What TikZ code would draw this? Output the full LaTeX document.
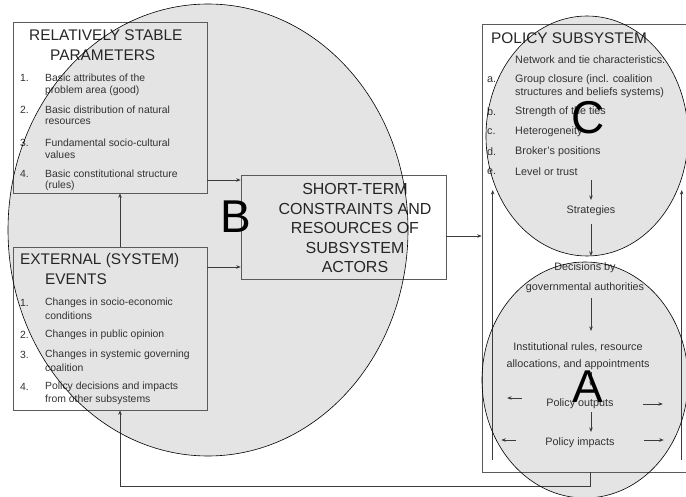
\documentclass[tikz,border=0pt]{standalone}
\usepackage{fontspec}
\setmainfont{Liberation Sans}
\usetikzlibrary{arrows.meta,shapes.geometric}
\newcommand\myfs[1]{\fontsize{#1}{#1}\selectfont}
\definecolor{ellfill}{RGB}{228,228,228}
\definecolor{txtc}{RGB}{50,50,50}
\definecolor{boxc}{RGB}{90,90,90}
\definecolor{arrc}{RGB}{60,60,60}
\tikzset{
  box/.style={draw=boxc,line width=0.6pt,rectangle,inner sep=0pt},
  ell/.style={draw=black,line width=0.6pt,ellipse,inner sep=0pt},
  arr/.style={draw=arrc,line width=0.6pt,-{Stealth[length=4.5pt,width=3.5pt]}},
  lt/.style={anchor=west,inner sep=0pt,text=txtc,font=\myfs{10.4}},
  pt/.style={anchor=west,inner sep=0pt,text=txtc,font=\myfs{10.8}},
  ct/.style={anchor=center,inner sep=0pt,text=txtc,font=\myfs{10.8}},
  hd/.style={anchor=west,inner sep=0pt,text=black!85,font=\myfs{15.4}},
  big/.style={anchor=center,inner sep=0pt,text=black,font=\myfs{46}},
}
\begin{document}
\begin{tikzpicture}[x=1pt,y=-1pt]
\useasboundingbox (0,0) rectangle (686,497);
% ellipse fills
\fill[ellfill] (208,230) ellipse [x radius=200pt, y radius=226pt];
\fill[ellfill] (587,136) ellipse [x radius=101pt, y radius=120pt];
\fill[ellfill] (585,380) ellipse [x radius=103pt, y radius=118pt];

% boxes
\node[box,minimum width=194pt,minimum height=171pt] (rsp) at (110,107.5) {};
\node[box,minimum width=194pt,minimum height=163pt] (ext) at (110,328.5) {};
\node[box,minimum width=205pt,minimum height=104pt] (st) at (343.5,227) {};
\node[box,minimum width=208pt,minimum height=448pt] (ps) at (586,248) {};

% RSP text
\node[hd] (rspA) at (29,35) {RELATIVELY STABLE};
\node[hd] (rspB) at (50,55) {PARAMETERS};
\node[lt] (r1n) at (20,78) {1.};
\node[lt] (r1a) at (45,78) {Basic attributes of the};
\node[lt] (r1b) at (45,91) {problem area (good)};
\node[lt] (r2n) at (20,110) {2.};
\node[lt] (r2a) at (45,110) {Basic distribution of natural};
\node[lt] (r2b) at (45,122) {resources};
\node[lt] (r3n) at (20,143) {3.};
\node[lt] (r3a) at (45,143) {Fundamental socio-cultural};
\node[lt] (r3b) at (45,155) {values};
\node[lt] (r4n) at (20,174) {4.};
\node[lt] (r4a) at (45,174) {Basic constitutional structure};
\node[lt] (r4b) at (45,186) {(rules)};

% EXT text
\node[hd] (extA) at (20,261) {EXTERNAL (SYSTEM)};
\node[hd] (extB) at (45,279) {EVENTS};
\node[lt] (e1n) at (20,303) {1.};
\node[lt] (e1a) at (45,303) {Changes in socio-economic};
\node[lt] (e1b) at (45,316) {conditions};
\node[lt] (e2n) at (20,335) {2.};
\node[lt] (e2a) at (45,335) {Changes in public opinion};
\node[lt] (e3n) at (20,355) {3.};
\node[lt] (e3a) at (45,355) {Changes in systemic governing};
\node[lt] (e3b) at (45,368) {coalition};
\node[lt] (e4n) at (20,387) {4.};
\node[lt] (e4a) at (45,387) {Policy decisions and impacts};
\node[lt] (e4b) at (45,400) {from other subsystems};

% short-term text
\node[anchor=center,inner sep=0pt,text=black!85,font=\myfs{16},align=center,
      execute at begin node=\setlength{\baselineskip}{19.5pt}] (stt) at (355,228)
  {SHORT-TERM\\CONSTRAINTS AND\\RESOURCES OF\\SUBSYSTEM\\ACTORS};

% policy subsystem text
\node[hd] (psA) at (491,38) {POLICY SUBSYSTEM};
\node[pt] (net) at (515,60) {Network and tie characteristics:};
\node[pt] (pan) at (487,80) {a.};
\node[pt] (pa1) at (515,80) {Group closure (incl. coalition};
\node[pt] (pa2) at (515,93) {structures and beliefs systems)};
\node[pt] (pbn) at (487,112) {b.};
\node[pt] (pb) at (515,112) {Strength of the ties};
\node[pt] (pcn) at (487,132) {c.};
\node[pt] (pc) at (515,132) {Heterogeneity};
\node[pt] (pdn) at (487,152) {d.};
\node[pt] (pd) at (515,152) {Broker’s positions};
\node[pt] (pen) at (487,172) {e.};
\node[pt] (pe) at (515,172) {Level or trust};
\node[ct] (strat) at (591,211) {Strategies};
\node[ct] (dec1) at (585,268) {Decisions by};
\node[ct] (dec2) at (585,288) {governmental authorities};
\node[ct] (ins1) at (578,347) {Institutional rules, resource};
\node[ct] (ins2) at (578,365) {allocations, and appointments};
\node[ct] (pout) at (580,404) {Policy outputs};
\node[ct] (pimp) at (580,443) {Policy impacts};

% chain arrows (x = 591)
\coordinate (top1) at (591,180);
\draw[arr] (top1) -- (strat.north |- 0,200);
\draw[arr] (strat.south |- 0,224) -- (strat.south |- 0,256);
\draw[arr] (strat.south |- 0,298) -- (strat.south |- 0,331);
\draw[arr] (strat.south |- 0,372) -- (strat.south |- 0,386);
\draw[arr] (strat.south |- 0,412) -- (strat.south |- 0,432);
% side arrows
\draw[arr] (pout.west) ++(-24,-6) coordinate (lo) -- ++(-15,0);
\draw[arr] (pimp.west) ++(-29,-3) coordinate (li) -- ++(-15,0);
\draw[arr] (pout.east) ++(29,0) coordinate (ro) -- ++(20,0);
\draw[arr] (pimp.east) ++(29,-3) coordinate (ri) -- ++(20,0);
% inner vertical arrows
\draw[arr] ([xshift=11pt,yshift=12pt]ps.south west) coordinate (vl) -- (vl |- 0,190);
\draw[arr] ([xshift=200pt,yshift=12pt]ps.south west) coordinate (vr) -- (vr |- 0,190);

% connectors between boxes
\draw[arr] ([xshift=10pt]ext.north) -- ([xshift=10pt]rsp.south);
\draw[arr] ([yshift=-72.5pt]rsp.east) coordinate (a1) -- (a1 -| st.west);
\draw[arr] ([yshift=61.5pt]ext.east) coordinate (a2) -- (a2 -| st.west);
\draw[arr] ([yshift=-9pt]st.east) coordinate (a3) -- (a3 -| ps.west);
\coordinate (fb) at (590,486);
\draw[arr] (ps.south -| fb) -- (fb) -- (fb -| 120,0) -- ([xshift=10pt]ext.south);

% ellipse outlines on top
\node[ell,minimum width=400pt,minimum height=452pt] (eB) at (208,230) {};
\node[ell,minimum width=202pt,minimum height=240pt] (eC) at (587,136) {};
\node[ell,minimum width=206pt,minimum height=236pt] (eA) at (585,380) {};

% letters
\node[big] (lB) at (236,217) {B};
\node[big] (lC) at (588,118) {C};
\node[big] (lA) at (588,387) {A};
\end{tikzpicture}
\end{document}
